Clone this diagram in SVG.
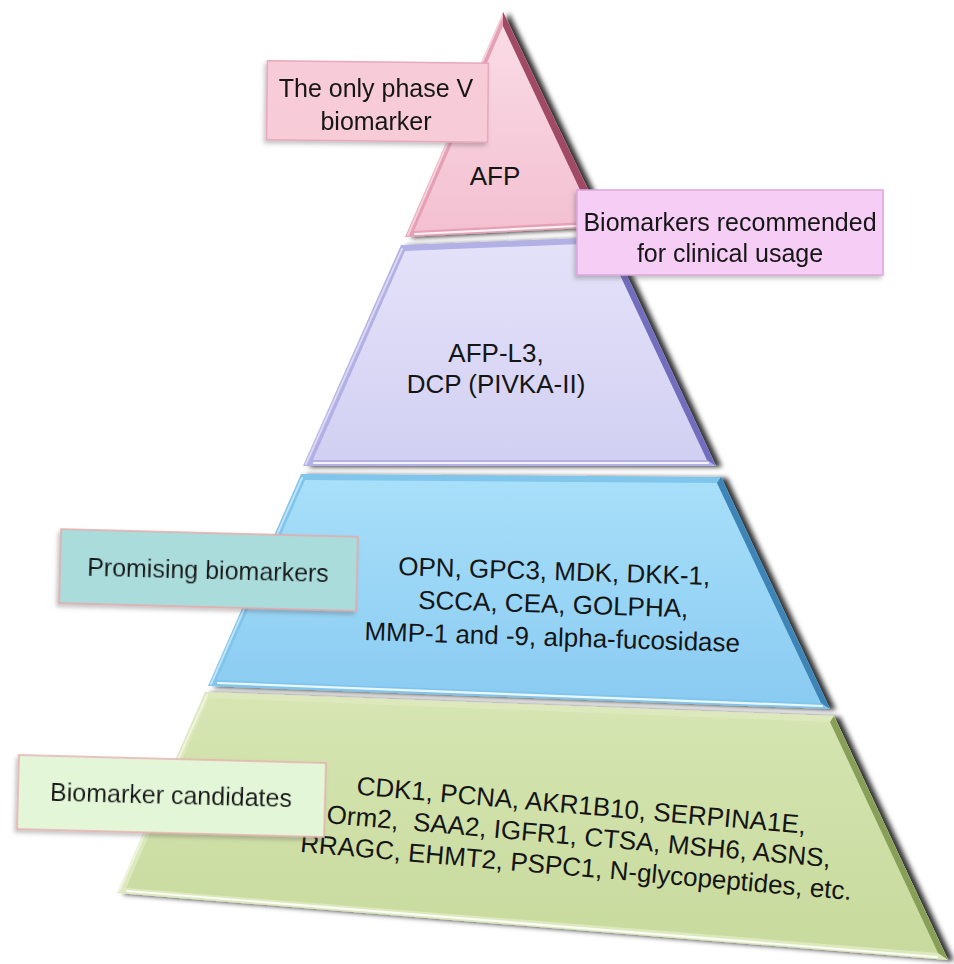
<svg xmlns="http://www.w3.org/2000/svg" width="954" height="964" viewBox="0 0 954 964">
  <defs>
    <style>
      .t { font-family: "Liberation Sans", Arial, sans-serif; fill: #151515; }
      .tier { font-size: 26px; text-anchor: middle; }
      .lab { font-size: 25px; text-anchor: middle; }
      .hl { fill: none; stroke: #ffffff; stroke-opacity: 0.85; stroke-width: 2.2; stroke-linecap: round; }
      .hl2 { fill: none; stroke: #ffffff; stroke-opacity: 0.5; stroke-width: 2; stroke-linecap: round; }
      .box { stroke-width: 1.5; }
    </style>
    <filter id="tierShadow" x="-10%" y="-10%" width="125%" height="125%">
      <feDropShadow dx="6" dy="1" stdDeviation="2.6" flood-color="#000" flood-opacity="0.8"/>
    </filter>
    <filter id="boxShadow" x="-10%" y="-15%" width="125%" height="140%">
      <feDropShadow dx="-2" dy="3" stdDeviation="2" flood-color="#555" flood-opacity="0.35"/>
    </filter>
    <linearGradient id="pinkFill" x1="0" y1="0" x2="0" y2="1">
      <stop offset="0" stop-color="#fadbe6"/>
      <stop offset="1" stop-color="#f3c0d1"/>
    </linearGradient>
    <linearGradient id="lavFill" x1="0" y1="0" x2="0" y2="1">
      <stop offset="0" stop-color="#e4e2f9"/>
      <stop offset="1" stop-color="#d2d0f2"/>
    </linearGradient>
    <linearGradient id="blueFill" x1="0" y1="0" x2="0" y2="1">
      <stop offset="0" stop-color="#a8dff9"/>
      <stop offset="1" stop-color="#8acbf2"/>
    </linearGradient>
    <linearGradient id="greenFill" x1="0" y1="0" x2="0" y2="1">
      <stop offset="0" stop-color="#d6e5b2"/>
      <stop offset="1" stop-color="#c8da9d"/>
    </linearGradient>
  </defs>

  <rect width="954" height="964" fill="#ffffff"/>

  <!-- Tier 4: biomarker candidates (green) -->
  <g id="tier-candidates">
    <polygon points="205,692 834,716 948,960 117,893" fill="#dde9bd" filter="url(#tierShadow)"/>
    <polygon points="209,698 830,722 938,953 126,888" fill="url(#greenFill)"/>
    <polygon points="834,716 948,960 938,953 830,722" fill="#879f57"/>
    <polyline class="hl" points="127,891 937,957"/>
    <polyline class="hl2" points="207,695 119,891"/>
    <g transform="rotate(5 578 845)">
      <text class="t tier" x="578" y="814">CDK1, PCNA, AKR1B10, SERPINA1E,</text>
      <text class="t tier" x="578" y="845" xml:space="preserve">Orm2,  SAA2, IGFR1, CTSA, MSH6, ASNS,</text>
      <text class="t tier" x="578" y="876">RRAGC, EHMT2, PSPC1, N-glycopeptides, etc.</text>
    </g>
  </g>

  <!-- Tier 3: promising biomarkers (blue) -->
  <g id="tier-promising">
    <polygon points="301,474 721,477 830,709 208,686" fill="#7fc5ec" filter="url(#tierShadow)"/>
    <polygon points="305,480 717,483 821,703 217,680" fill="url(#blueFill)"/>
    <polygon points="721,477 830,709 821,703 717,483" fill="#3e84b6"/>
    <polyline class="hl" points="218,683 822,706"/>
    <polyline class="hl2" points="302,478 211,684"/>
    <g transform="rotate(1.8 553 613)">
      <text class="t tier" x="553" y="580">OPN, GPC3, MDK, DKK-1,</text>
      <text class="t tier" x="553" y="613">SCCA, CEA, GOLPHA,</text>
      <text class="t tier" x="553" y="646">MMP-1 and -9, alpha-fucosidase</text>
    </g>
  </g>

  <!-- Tier 2: recommended (lavender) -->
  <g id="tier-recommended">
    <polygon points="401,245 609,237 716,466 303,466" fill="#b3b0e6" filter="url(#tierShadow)"/>
    <polygon points="405,251 605,243 707,460 313,460" fill="url(#lavFill)"/>
    <polygon points="609,237 716,466 707,460 605,243" fill="#726dbd"/>
    <polyline class="hl" points="314,463 708,463"/>
    <polyline class="hl2" points="402,249 306,464"/>
    <text class="t tier" x="496" y="362">AFP-L3,</text>
    <text class="t tier" x="496" y="393">DCP (PIVKA-II)</text>
  </g>

  <!-- Tier 1: phase V (pink) -->
  <g id="tier-phaseV">
    <polygon points="503,12 606,227 405,237" fill="#e6a0b5" filter="url(#tierShadow)"/>
    <polygon points="503,26 595,221.5 414,231" fill="url(#pinkFill)"/>
    <polygon points="503,12 606,227 595,221.5 503,26" fill="#a04a65"/>
    <polyline class="hl" points="415,234 596,225"/>
    <polyline class="hl2" points="502,16 408,235"/>
    <text class="t tier" x="495" y="185">AFP</text>
  </g>

  <!-- Label boxes -->
  <g id="label-phaseV" filter="url(#boxShadow)">
    <rect class="box" x="267" y="62" width="221" height="79" fill="#f8cbd9" stroke="#e7a9bd" transform="rotate(0.6 377 101)"/>
    <text class="t lab" x="376" y="97">The only phase V</text>
    <text class="t lab" x="376" y="130">biomarker</text>
  </g>

  <g id="label-recommended" filter="url(#boxShadow)">
    <rect class="box" x="577" y="190" width="306" height="85" fill="#f5cdf5" stroke="#dca6dc"/>
    <text class="t lab" x="730" y="231">Biomarkers recommended</text>
    <text class="t lab" x="730" y="262">for clinical usage</text>
  </g>

  <g id="label-promising" filter="url(#boxShadow)" transform="rotate(1.5 208 570)">
    <rect class="box" x="60" y="533" width="297" height="74" fill="#abdcdc" stroke="#e5a9a9"/>
    <text class="t lab" x="208" y="579">Promising biomarkers</text>
  </g>

  <g id="label-candidates" filter="url(#boxShadow)" transform="rotate(1.5 171 796)">
    <rect class="box" x="18" y="759" width="307" height="74" fill="#e3f6d8" stroke="#e8b0b0"/>
    <text class="t lab" x="171" y="804">Biomarker candidates</text>
  </g>
</svg>
